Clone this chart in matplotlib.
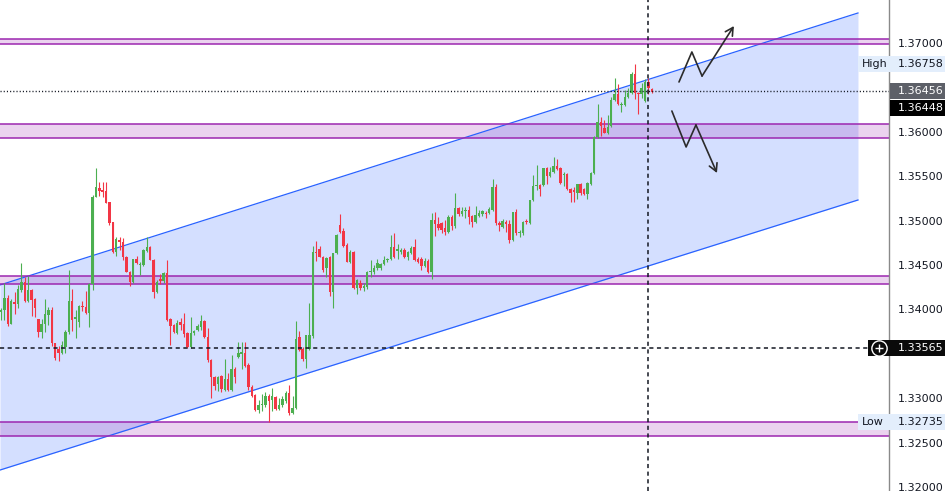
import matplotlib
matplotlib.use('Agg')
import matplotlib.pyplot as plt
from matplotlib.patches import Rectangle
from matplotlib.transforms import blended_transform_factory
import numpy as np

# ---------------- data (prices) ----------------
opens = [1.3397, 1.3399, 1.3413, 1.3384, 1.3408, 1.3406, 1.3422, 1.3431, 1.3410, 1.3422,
         1.3412, 1.3389, 1.3375, 1.3384, 1.3394, 1.3399, 1.3362, 1.3355, 1.3351, 1.3358,
         1.3375, 1.3410, 1.3389, 1.3386, 1.3404, 1.3403, 1.3396, 1.3429, 1.3527, 1.3537,
         1.3534, 1.3533, 1.3521, 1.3498, 1.3465, 1.3478, 1.3476, 1.3459, 1.3442, 1.3431,
         1.3457, 1.3450, 1.3450, 1.3466, 1.3470, 1.3456, 1.3420, 1.3434, 1.3432, 1.3441,
         1.3389, 1.3382, 1.3373, 1.3386, 1.3384, 1.3373, 1.3358, 1.3373, 1.3377, 1.3380,
         1.3387, 1.3369, 1.3343, 1.3324, 1.3316, 1.3325, 1.3309, 1.3322, 1.3309, 1.3333,
         1.3346, 1.3350, 1.3351, 1.3337, 1.3313, 1.3304, 1.3287, 1.3292, 1.3292, 1.3302,
         1.3298, 1.3301, 1.3288, 1.3292, 1.3297, 1.3306, 1.3283, 1.3289, 1.3369, 1.3355,
         1.3344, 1.3355, 1.3370, 1.3465, 1.3468, 1.3459, 1.3447, 1.3459, 1.3420, 1.3464,
         1.3495, 1.3488, 1.3473, 1.3453, 1.3465, 1.3424, 1.3430, 1.3424, 1.3425, 1.3442,
         1.3442, 1.3447, 1.3447, 1.3451, 1.3456, 1.3457, 1.3470, 1.3466, 1.3465, 1.3467,
         1.3459, 1.3464, 1.3470, 1.3457, 1.3457, 1.3449, 1.3455, 1.3442, 1.3501, 1.3496,
         1.3497, 1.3492, 1.3487, 1.3504, 1.3494, 1.3514, 1.3507, 1.3511, 1.3512, 1.3505,
         1.3498, 1.3505, 1.3507, 1.3509, 1.3509, 1.3512, 1.3538, 1.3497, 1.3493, 1.3498,
         1.3496, 1.3478, 1.3510, 1.3486, 1.3486, 1.3500, 1.3497, 1.3523, 1.3539, 1.3540,
         1.3540, 1.3559, 1.3550, 1.3555, 1.3562, 1.3559, 1.3551, 1.3552, 1.3536, 1.3534,
         1.3531, 1.3541, 1.3536, 1.3530, 1.3541, 1.3554, 1.3594, 1.3611, 1.3604, 1.3599,
         1.3607, 1.3636, 1.3643, 1.3630, 1.3630, 1.3639, 1.3644, 1.3665, 1.3644, 1.3643,
         1.3635, 1.3656, 1.3648]
highs = [1.3402, 1.3430, 1.3416, 1.3412, 1.3420, 1.3427, 1.3452, 1.3436, 1.3438, 1.3423,
         1.3413, 1.3389, 1.3389, 1.3412, 1.3403, 1.3403, 1.3362, 1.3359, 1.3364, 1.3377,
         1.3444, 1.3423, 1.3399, 1.3405, 1.3410, 1.3421, 1.3430, 1.3529, 1.3559, 1.3543,
         1.3543, 1.3543, 1.3521, 1.3498, 1.3482, 1.3482, 1.3480, 1.3460, 1.3443, 1.3457,
         1.3460, 1.3453, 1.3468, 1.3482, 1.3471, 1.3457, 1.3433, 1.3440, 1.3442, 1.3456,
         1.3390, 1.3384, 1.3388, 1.3390, 1.3396, 1.3375, 1.3391, 1.3377, 1.3384, 1.3394,
         1.3388, 1.3379, 1.3344, 1.3325, 1.3325, 1.3326, 1.3344, 1.3328, 1.3349, 1.3335,
         1.3363, 1.3363, 1.3363, 1.3340, 1.3315, 1.3305, 1.3298, 1.3305, 1.3307, 1.3305,
         1.3312, 1.3302, 1.3300, 1.3302, 1.3308, 1.3315, 1.3302, 1.3387, 1.3376, 1.3358,
         1.3371, 1.3407, 1.3471, 1.3477, 1.3471, 1.3460, 1.3459, 1.3460, 1.3464, 1.3485,
         1.3507, 1.3492, 1.3475, 1.3467, 1.3466, 1.3434, 1.3433, 1.3430, 1.3443, 1.3456,
         1.3450, 1.3457, 1.3452, 1.3460, 1.3458, 1.3484, 1.3486, 1.3474, 1.3469, 1.3469,
         1.3466, 1.3471, 1.3479, 1.3459, 1.3459, 1.3458, 1.3457, 1.3509, 1.3510, 1.3504,
         1.3498, 1.3501, 1.3506, 1.3506, 1.3531, 1.3515, 1.3515, 1.3515, 1.3516, 1.3506,
         1.3516, 1.3512, 1.3512, 1.3511, 1.3515, 1.3547, 1.3541, 1.3500, 1.3502, 1.3501,
         1.3501, 1.3510, 1.3513, 1.3489, 1.3500, 1.3502, 1.3523, 1.3551, 1.3563, 1.3541,
         1.3559, 1.3560, 1.3560, 1.3572, 1.3569, 1.3560, 1.3555, 1.3554, 1.3537, 1.3538,
         1.3541, 1.3542, 1.3537, 1.3543, 1.3555, 1.3595, 1.3631, 1.3617, 1.3613, 1.3619,
         1.3639, 1.3661, 1.3654, 1.3634, 1.3647, 1.3649, 1.3667, 1.3676, 1.3645, 1.3655,
         1.3660, 1.3661, 1.3649]
lows = [1.3388, 1.3388, 1.3381, 1.3384, 1.3395, 1.3402, 1.3420, 1.3408, 1.3408, 1.3393,
        1.3391, 1.3369, 1.3368, 1.3375, 1.3382, 1.3359, 1.3343, 1.3342, 1.3350, 1.3351,
        1.3372, 1.3376, 1.3368, 1.3380, 1.3398, 1.3395, 1.3380, 1.3422, 1.3527, 1.3528,
        1.3527, 1.3520, 1.3495, 1.3464, 1.3460, 1.3467, 1.3456, 1.3442, 1.3426, 1.3430,
        1.3451, 1.3439, 1.3449, 1.3465, 1.3456, 1.3413, 1.3419, 1.3429, 1.3430, 1.3387,
        1.3360, 1.3373, 1.3372, 1.3377, 1.3369, 1.3357, 1.3357, 1.3371, 1.3376, 1.3377,
        1.3368, 1.3341, 1.3300, 1.3309, 1.3308, 1.3307, 1.3308, 1.3308, 1.3308, 1.3317,
        1.3345, 1.3333, 1.3335, 1.3309, 1.3301, 1.3286, 1.3283, 1.3286, 1.3290, 1.3273,
        1.3286, 1.3287, 1.3287, 1.3290, 1.3295, 1.3281, 1.3282, 1.3288, 1.3353, 1.3342,
        1.3334, 1.3354, 1.3368, 1.3455, 1.3459, 1.3442, 1.3436, 1.3415, 1.3402, 1.3462,
        1.3486, 1.3470, 1.3453, 1.3452, 1.3423, 1.3417, 1.3422, 1.3421, 1.3423, 1.3436,
        1.3440, 1.3444, 1.3444, 1.3450, 1.3453, 1.3456, 1.3458, 1.3457, 1.3462, 1.3458,
        1.3456, 1.3462, 1.3455, 1.3452, 1.3444, 1.3448, 1.3441, 1.3434, 1.3483, 1.3489,
        1.3486, 1.3484, 1.3486, 1.3489, 1.3492, 1.3505, 1.3505, 1.3503, 1.3496, 1.3493,
        1.3497, 1.3504, 1.3505, 1.3503, 1.3507, 1.3511, 1.3495, 1.3488, 1.3492, 1.3487,
        1.3475, 1.3477, 1.3484, 1.3482, 1.3484, 1.3496, 1.3496, 1.3522, 1.3534, 1.3528,
        1.3539, 1.3541, 1.3549, 1.3554, 1.3557, 1.3541, 1.3539, 1.3534, 1.3521, 1.3521,
        1.3524, 1.3529, 1.3529, 1.3524, 1.3540, 1.3552, 1.3593, 1.3595, 1.3599, 1.3598,
        1.3605, 1.3635, 1.3630, 1.3622, 1.3629, 1.3638, 1.3643, 1.3637, 1.3620, 1.3638,
        1.3634, 1.3643, 1.3644]
closes = [1.3399, 1.3413, 1.3384, 1.3410, 1.3406, 1.3423, 1.3431, 1.3410, 1.3422, 1.3411,
          1.3402, 1.3375, 1.3384, 1.3395, 1.3399, 1.3362, 1.3345, 1.3351, 1.3360, 1.3375,
          1.3410, 1.3388, 1.3391, 1.3404, 1.3403, 1.3396, 1.3429, 1.3527, 1.3538, 1.3533,
          1.3532, 1.3520, 1.3497, 1.3465, 1.3479, 1.3476, 1.3459, 1.3442, 1.3431, 1.3457,
          1.3452, 1.3451, 1.3467, 1.3470, 1.3456, 1.3420, 1.3431, 1.3432, 1.3441, 1.3388,
          1.3381, 1.3375, 1.3385, 1.3382, 1.3372, 1.3358, 1.3373, 1.3376, 1.3381, 1.3387,
          1.3369, 1.3343, 1.3324, 1.3314, 1.3324, 1.3310, 1.3322, 1.3309, 1.3333, 1.3324,
          1.3351, 1.3352, 1.3336, 1.3313, 1.3302, 1.3287, 1.3292, 1.3294, 1.3302, 1.3297,
          1.3302, 1.3288, 1.3292, 1.3299, 1.3306, 1.3283, 1.3289, 1.3367, 1.3354, 1.3344,
          1.3371, 1.3371, 1.3465, 1.3464, 1.3459, 1.3444, 1.3458, 1.3420, 1.3464, 1.3484,
          1.3487, 1.3471, 1.3453, 1.3465, 1.3424, 1.3433, 1.3424, 1.3426, 1.3442, 1.3443,
          1.3447, 1.3452, 1.3451, 1.3456, 1.3457, 1.3470, 1.3459, 1.3468, 1.3467, 1.3459,
          1.3465, 1.3469, 1.3456, 1.3453, 1.3449, 1.3455, 1.3442, 1.3501, 1.3496, 1.3492,
          1.3489, 1.3487, 1.3504, 1.3494, 1.3514, 1.3507, 1.3511, 1.3512, 1.3504, 1.3498,
          1.3506, 1.3509, 1.3511, 1.3507, 1.3513, 1.3538, 1.3497, 1.3495, 1.3500, 1.3496,
          1.3478, 1.3510, 1.3486, 1.3487, 1.3498, 1.3498, 1.3523, 1.3539, 1.3540, 1.3536,
          1.3559, 1.3550, 1.3555, 1.3562, 1.3558, 1.3542, 1.3552, 1.3536, 1.3531, 1.3532,
          1.3541, 1.3531, 1.3530, 1.3542, 1.3554, 1.3594, 1.3611, 1.3607, 1.3599, 1.3605,
          1.3636, 1.3643, 1.3631, 1.3631, 1.3639, 1.3644, 1.3665, 1.3644, 1.3643, 1.3649,
          1.3656, 1.3649, 1.36448]

price_ticks = [1.320, 1.325, 1.330, 1.340, 1.345, 1.350, 1.355, 1.360, 1.365, 1.370]
tick_labels = ['1.32000', '1.32500', '1.33000', '1.34000', '1.34500',
               '1.35000', '1.35500', '1.36000', '1.36500', '1.37000']

zone_low = [1.36989, 1.35930, 1.34283, 1.32574]
zone_high = [1.37045, 1.36088, 1.34380, 1.32732]

channel_x = [-0.3, 252.8]
channel_upper = [1.34275, 1.37338]
channel_lower = [1.32191, 1.35232]

prev_close_price = 1.36456
last_price = 1.36448
high_price = 1.36758
low_price = 1.32735
cursor_price = 1.33565
cursor_index = 191

up_path_x = [200.0, 203.8, 206.8, 216.2]
up_path_y = [1.36561, 1.36899, 1.36628, 1.37191]
down_path_x = [197.9, 202.1, 205.0, 211.2]
down_path_y = [1.36234, 1.35829, 1.36077, 1.35536]

# ---------------- figure ----------------
W, H = 950, 491
AX_W = 889
fig = plt.figure(figsize=(W / 100, H / 100), dpi=100)
ax = fig.add_axes([0, 0, AX_W / W, 1])
ax.set_xlim(-0.295, 261.95)
ax.set_ylim(1.319550, 1.374842)

BLUE = '#2962ff'
PURPLE = '#9c27b0'
GREEN = '#4caf50'
RED = '#f23645'
INK = '#131722'

# channel
ax.fill_between(channel_x, channel_lower, channel_upper, color=BLUE, alpha=0.2, lw=0, zorder=1)
ax.plot(channel_x, channel_upper, color=BLUE, lw=0.9, zorder=2)
ax.plot(channel_x, channel_lower, color=BLUE, lw=0.9, zorder=2)

# zones
for lo, hi in zip(zone_low, zone_high):
    ax.axhspan(lo, hi, color=PURPLE, alpha=0.2, lw=0, zorder=1.5)
    ax.axhline(lo, color=PURPLE, lw=1.1, zorder=2.5)
    ax.axhline(hi, color=PURPLE, lw=1.1, zorder=2.5)

# candles
o = np.array(opens); h = np.array(highs); l = np.array(lows); c = np.array(closes)
x = np.arange(len(o))
cols = np.where(c >= o, GREEN, RED)
ax.vlines(x, l, h, colors=cols, lw=0.8, zorder=4)
body_bottom = np.minimum(o, c)
body_h = np.maximum(np.abs(c - o), 0.00004)
ax.bar(x, body_h, bottom=body_bottom, width=0.72, color=cols, lw=0, zorder=5)

# reference lines
ax.axhline(prev_close_price, color=INK, lw=1.0, ls=(0, (0.8, 1.5)), zorder=6)
ax.axhline(cursor_price, color=INK, lw=1.1, ls=(0, (2.7, 2.3)), zorder=6)
ax.axvline(cursor_index, color=INK, lw=1.1, ls=(0, (2.7, 2.3)), zorder=6)

# scenario arrows
for px, py in ((up_path_x, up_path_y), (down_path_x, down_path_y)):
    ax.plot(px[:-1], py[:-1], color='#2b2b2b', lw=1.2, zorder=7, solid_capstyle='round')
    ax.annotate('', xy=(px[-1], py[-1]), xytext=(px[-2], py[-2]),
                arrowprops=dict(arrowstyle='->,head_length=0.55,head_width=0.3',
                                color='#2b2b2b', lw=1.2, shrinkA=0, shrinkB=0), zorder=7)

# axes styling
for s in ('left', 'top', 'bottom'):
    ax.spines[s].set_visible(False)
ax.spines['right'].set_color('#8a8a8a')
ax.spines['right'].set_linewidth(1.0)
ax.set_xticks([])
ax.yaxis.tick_right()
ax.set_yticks(price_ticks)
ax.set_yticklabels(tick_labels)
ax.tick_params(axis='y', length=0, pad=6.5, labelsize=8, labelcolor=INK)
for t in ax.get_yticklabels():
    t.set_fontfamily('DejaVu Sans')

# price labels on the scale
tr = blended_transform_factory(ax.transAxes, ax.transData)
BOX_H = 16 / 8880.0


def fx(px):
    return px / AX_W


def box(price, x0, x1, fc, z=8):
    ax.add_patch(Rectangle((fx(x0), price - BOX_H / 2), fx(x1) - fx(x0), BOX_H,
                           transform=tr, fc=fc, ec='none', clip_on=False, zorder=z))


def label(price, txt, px, color, z=9):
    ax.text(fx(px), price, txt, transform=tr, ha='left', va='center', fontsize=8,
            color=color, clip_on=False, zorder=z, family='DejaVu Sans')


box(high_price, 858, 945, '#e3eefc')
label(high_price, 'High', 862, INK)
label(high_price, f'{high_price:.5f}', 898, INK)

box(low_price, 858, 945, '#e3eefc')
label(low_price, 'Low', 862, INK)
label(low_price, f'{low_price:.5f}', 898, INK)

box(prev_close_price, 890, 945, '#5d6068')
label(prev_close_price, f'{prev_close_price:.5f}', 898, 'white')

last_label_pos = prev_close_price - 1.06 * BOX_H
box(last_label_pos, 890, 945, '#000000')
label(last_label_pos, f'{last_price:.5f}', 898, 'white')

box(cursor_price, 868, 945, '#0a0a0a', z=10)
label(cursor_price, f'{cursor_price:.5f}', 898, 'white', z=11)
ax.plot([fx(879)], [cursor_price], transform=tr, marker='o', ms=11, mfc='none',
        mec='white', mew=1.0, clip_on=False, zorder=11)
ax.plot([fx(879)], [cursor_price], transform=tr, marker='+', ms=6, mec='white',
        mew=1.0, clip_on=False, zorder=11)

fig.savefig('out.png', dpi=100)
